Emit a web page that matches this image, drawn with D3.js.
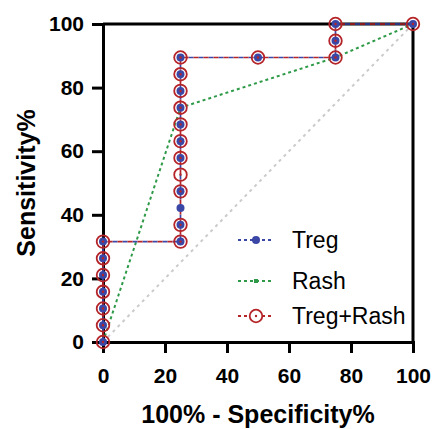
<!DOCTYPE html>
<html><head><meta charset="utf-8">
<script src="https://cdn.jsdelivr.net/npm/d3@7"></script>
<style>body{margin:0;background:#fff}svg{display:block}</style>
</head><body>
<script>
// ---- data ----
const xTicks = [0, 20, 40, 60, 80, 100];
const yTicks = [0, 20, 40, 60, 80, 100];
const tregX = [0,0,0,0,0,0,0, 25,25,25,25,25,25,25,25,25,25,25, 50, 75,75,75, 100];
const tregY = [0,5.26,10.53,15.79,21.05,26.32,31.58, 31.58,36.84,42.11,47.37,57.89,63.16,68.42,73.68,78.95,84.21,89.47, 89.47, 89.47,94.74,100, 100];
const comboX = [0,0,0,0,0,0,0, 25,25,25,25,25,25,25,25,25,25,25, 50, 75,75,75, 100];
const comboY = [0,5.26,10.53,15.79,21.05,26.32,31.58, 31.58,36.84,47.37,52.63,57.89,63.16,68.42,73.68,78.95,84.21,89.47, 89.47, 89.47,94.74,100, 100];
const rashX = [0, 25, 75, 100];
const rashY = [0, 73.68, 89.47, 100];
const refX = [0, 100];
const refY = [0, 100];
const seriesNames = ["Treg", "Rash", "Treg+Rash"];
const xTitle = "100% - Specificity%";
const yTitle = "Sensitivity%";

const W = 433, H = 429;
const C = {blue: "#3a47a6", red: "#b42428", green: "#2e9a48", grey: "#cbcbcb"};
const svg = d3.select("body").append("svg").attr("width", W).attr("height", H);
const x = d3.scaleLinear().domain([0, 100]).range([103, 413]);
const y = d3.scaleLinear().domain([0, 100]).range([342, 24]);
const pts = (xs, ys) => xs.map((v, i) => [v, ys[i]]);
const line = d3.line().x(d => x(d[0])).y(d => y(d[1]));

// frame top/right
svg.append("line").attr("x1", x(0)).attr("x2", x(100)).attr("y1", y(100)).attr("y2", y(100))
  .attr("stroke", "#000").attr("stroke-width", 3);
svg.append("line").attr("x1", x(100)).attr("x2", x(100)).attr("y1", y(0)).attr("y2", y(100))
  .attr("stroke", "#000").attr("stroke-width", 3).attr("stroke-linecap", "square");

// axes
const fontTick = "bold 21px 'Liberation Sans', Arial, sans-serif";
const gx = svg.append("g").attr("transform", `translate(0,${y(0)})`)
  .call(d3.axisBottom(x).tickValues(xTicks).tickSize(11).tickPadding(15).tickSizeOuter(0));
const gy = svg.append("g").attr("transform", `translate(${x(0)},0)`)
  .call(d3.axisLeft(y).tickValues(yTicks).tickSize(11).tickPadding(8).tickSizeOuter(0));
[gx, gy].forEach(g => {
  g.select(".domain").attr("stroke", "#000").attr("stroke-width", 3).attr("stroke-linecap", "square");
  g.selectAll(".tick line").attr("stroke", "#000").attr("stroke-width", 3);
  g.selectAll(".tick text").attr("fill", "#000").style("font", fontTick);
});

// titles
svg.append("text").attr("x", (x(0) + x(100)) / 2).attr("y", 423).attr("text-anchor", "middle")
  .style("font", "bold 25px 'Liberation Sans', Arial, sans-serif").text(xTitle);
svg.append("text").attr("transform", `translate(35,${(y(0) + y(100)) / 2}) rotate(-90)`).attr("text-anchor", "middle")
  .style("font", "bold 25px 'Liberation Sans', Arial, sans-serif").text(yTitle);

// reference diagonal
svg.append("path").attr("d", line(pts(refX, refY))).attr("fill", "none")
  .attr("stroke", C.grey).attr("stroke-width", 2).attr("stroke-dasharray", "3,4");

// Rash
svg.append("path").attr("d", line(pts(rashX, rashY))).attr("fill", "none")
  .attr("stroke", C.green).attr("stroke-width", 2).attr("stroke-dasharray", "3,3");
// Treg
svg.append("path").attr("d", line(pts(tregX, tregY))).attr("fill", "none")
  .attr("stroke", C.blue).attr("stroke-width", 1.7).attr("stroke-dasharray", "5,5");
// Treg+Rash
svg.append("path").attr("d", line(pts(comboX, comboY))).attr("fill", "none")
  .attr("stroke", C.red).attr("stroke-width", 1.7).attr("stroke-dasharray", "5,5").attr("stroke-dashoffset", 5);

// markers
svg.append("g").selectAll("rect").data(pts(rashX, rashY)).join("rect")
  .attr("x", d => x(d[0]) - 2).attr("y", d => y(d[1]) - 2).attr("width", 4).attr("height", 4).attr("fill", C.green);
svg.append("g").selectAll("circle").data(pts(tregX, tregY)).join("circle")
  .attr("cx", d => x(d[0])).attr("cy", d => y(d[1])).attr("r", 4).attr("fill", C.blue);
const cg = svg.append("g");
cg.selectAll("circle.o").data(pts(comboX, comboY)).join("circle").attr("class", "o")
  .attr("cx", d => x(d[0])).attr("cy", d => y(d[1])).attr("r", 6.3).attr("fill", "none")
  .attr("stroke", C.red).attr("stroke-width", 1.8);
cg.selectAll("circle.c").data(pts(comboX, comboY)).join("circle").attr("class", "c")
  .attr("cx", d => x(d[0])).attr("cy", d => y(d[1])).attr("r", 1.2).attr("fill", C.red);

// legend
const leg = svg.append("g");
const legY = [240, 281, 316];
const legCol = [C.blue, C.green, C.red];
seriesNames.forEach((name, i) => {
  const yy = legY[i];
  leg.append("line").attr("x1", 238).attr("x2", 274).attr("y1", yy).attr("y2", yy)
    .attr("stroke", legCol[i]).attr("stroke-width", 1.8).attr("stroke-dasharray", "3,3");
  if (i === 0) leg.append("circle").attr("cx", 256).attr("cy", yy).attr("r", 4).attr("fill", C.blue);
  if (i === 1) leg.append("rect").attr("x", 254).attr("y", yy - 2).attr("width", 4).attr("height", 4).attr("fill", C.green);
  if (i === 2) {
    leg.append("circle").attr("cx", 256).attr("cy", yy).attr("r", 6.3).attr("fill", "#fff").attr("stroke", C.red).attr("stroke-width", 1.8);
    leg.append("circle").attr("cx", 256).attr("cy", yy).attr("r", 1.2).attr("fill", C.red);
  }
  leg.append("text").attr("x", 292).attr("y", yy + 8).style("font", "23px 'Liberation Sans', Arial, sans-serif")
    .attr("fill", "#000").text(name);
});
</script>
</body></html>
